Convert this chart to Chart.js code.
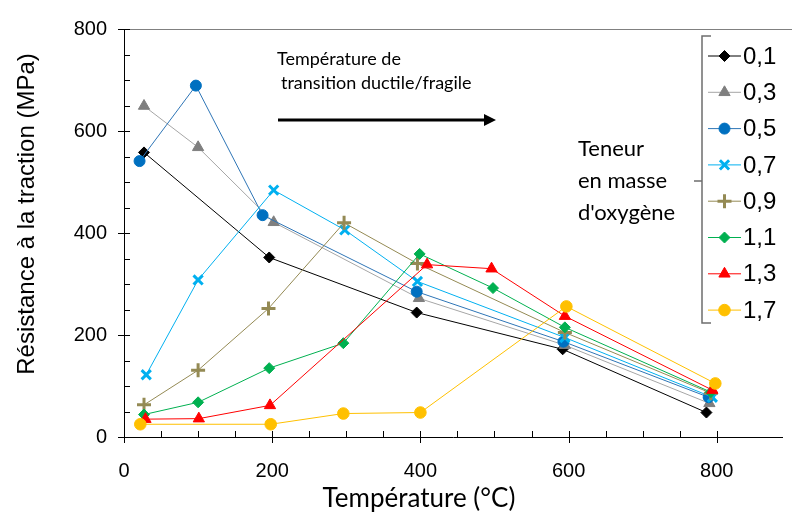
<!DOCTYPE html>
<html><head><meta charset="utf-8">
<script src="https://cdn.jsdelivr.net/npm/chart.js@4/dist/chart.umd.min.js"></script>
<style>html,body{margin:0;padding:0;background:#fff;}#wrap{position:relative;width:792px;height:519px;}</style>
</head><body><div id="wrap"><canvas id="c" width="792" height="519"></canvas></div>
<script>
// ---- data ----
const seriesNames = ['0,1','0,3','0,5','0,7','0,9','1,1','1,3','1,7'];
const temp01 = [27, 196, 395, 592, 786];
const res01  = [558, 352, 244, 172, 48];
const temp03 = [27, 100, 202, 398, 595, 790];
const res03  = [649, 568, 421, 272, 180, 66];
const temp05 = [21, 97, 187, 395, 593, 789];
const res05  = [541, 689, 435, 285, 187, 78];
const temp07 = [30, 100, 202, 298, 396, 595, 794];
const res07  = [122, 308, 484, 406, 305, 195, 78];
const temp09 = [27, 100, 195, 297, 396, 595, 792];
const res09  = [63, 131, 252, 420, 340, 205, 86];
const temp11 = [27, 100, 196, 296, 399, 498, 595, 792];
const res11  = [44, 68, 135, 184, 359, 292, 215, 88];
const temp13 = [29, 101, 197, 409, 496, 595, 794];
const res13  = [35, 36, 62, 338, 330, 237, 92];
const temp17 = [22, 198, 296, 400, 597, 798];
const res17  = [25, 25, 46, 48, 256, 105];
const xTickLabels = [0, 200, 400, 600, 800];
const yTickLabels = [0, 200, 400, 600, 800];
const xTitle = 'Température (°C)';
const yTitle = 'Résistance à la traction (MPa)';
const noteLines = ['Température de', 'transition ductile/fragile'];
const legendTitleLines = ['Teneur', 'en masse', "d'oxygène"];

// ---- styles ----
const temps = [temp01, temp03, temp05, temp07, temp09, temp11, temp13, temp17];
const values = [res01, res03, res05, res07, res09, res11, res13, res17];
const lineColors = ['#000000', '#A6A6A6', '#2E75B6', '#00B0F0', '#948A54', '#00B050', '#FF0000', '#FFC000'];
const markColors = ['#000000', '#7F7F7F', '#0070C0', '#00B0F0', '#948A54', '#00B050', '#FF0000', '#FFC000'];
const markStyles = ['rectRot', 'triangle', 'circle', 'crossRot', 'cross', 'rectRot', 'triangle', 'circle'];
const markRadius = [5.5, 6.5, 5.5, 6.5, 7, 5.5, 6.5, 5.8];
const markBorder = [1, 1, 1, 3, 3, 1, 1, 1];

const datasets = seriesNames.map((name, i) => ({
  label: name,
  data: temps[i].map((t, k) => ({x: t, y: values[i][k]})),
  showLine: true,
  borderColor: lineColors[i],
  borderWidth: 1,
  backgroundColor: markColors[i],
  pointBackgroundColor: markColors[i],
  pointBorderColor: markColors[i],
  pointStyle: markStyles[i],
  pointRadius: markRadius[i],
  pointBorderWidth: markBorder[i],
  order: seriesNames.length - i,
  tension: 0
}));

const CAL = 'Lato, "Open Sans", sans-serif';
const ARIAL = '"Liberation Sans", Arial, sans-serif';

const decor = {
  id: 'decor',
  beforeDatasetsDraw(chart) {
    const ctx = chart.ctx, a = chart.chartArea;
    const xs = chart.scales.x, ys = chart.scales.y;
    ctx.save();
    ctx.strokeStyle = '#808080'; ctx.lineWidth = 1;
    ctx.beginPath(); ctx.moveTo(a.left, a.top + 0.5); ctx.lineTo(792, a.top + 0.5); ctx.stroke();
    ctx.strokeStyle = '#000'; ctx.lineWidth = 1;
    xs.ticks.forEach(t => {
      const px = Math.round(xs.getPixelForValue(t.value)) + 0.5;
      const major = t.value % 200 === 0;
      ctx.beginPath();
      ctx.moveTo(px, a.bottom - 6);
      ctx.lineTo(px, major ? a.bottom + 6 : a.bottom);
      ctx.stroke();
    });
    ys.ticks.forEach(t => {
      const py = Math.round(ys.getPixelForValue(t.value)) + 0.5;
      const major = t.value % 200 === 0;
      ctx.beginPath();
      ctx.moveTo(major ? a.left - 6 : a.left, py);
      ctx.lineTo(a.left + 6, py);
      ctx.stroke();
    });
    ctx.restore();
  },
  afterDraw(chart) {
    const ctx = chart.ctx;
    ctx.save();
    ctx.fillStyle = '#000';
    ctx.font = '26px ' + CAL;
    ctx.textAlign = 'center'; ctx.textBaseline = 'middle';
    ctx.fillText(xTitle, 419, 499);
    ctx.save();
    ctx.translate(27, 214); ctx.rotate(-Math.PI / 2);
    ctx.font = '24px ' + ARIAL;
    ctx.fillText(yTitle, 0, 0);
    ctx.restore();
    ctx.font = '18px ' + CAL;
    ctx.textAlign = 'left';
    ctx.fillText(noteLines[0], 277, 59);
    ctx.fillText(noteLines[1], 281, 83);
    ctx.strokeStyle = '#000'; ctx.lineWidth = 3;
    ctx.beginPath(); ctx.moveTo(278, 120); ctx.lineTo(486, 120); ctx.stroke();
    ctx.beginPath(); ctx.moveTo(496, 120); ctx.lineTo(484, 114); ctx.lineTo(484, 126); ctx.closePath(); ctx.fill();
    ctx.font = '22px ' + CAL;
    legendTitleLines.forEach((s, i) => ctx.fillText(s, 578, 149 + i * 32));
    ctx.strokeStyle = '#6E6E6E'; ctx.lineWidth = 1.5;
    ctx.beginPath();
    ctx.moveTo(711, 36); ctx.lineTo(702, 36); ctx.lineTo(702, 323); ctx.lineTo(711, 323);
    ctx.moveTo(702, 181); ctx.lineTo(694, 181);
    ctx.stroke();
    seriesNames.forEach((name, i) => {
      const y = 56 + i * 36.3;
      ctx.strokeStyle = lineColors[i]; ctx.lineWidth = 1;
      ctx.beginPath(); ctx.moveTo(708, y); ctx.lineTo(741, y); ctx.stroke();
      ctx.fillStyle = markColors[i]; ctx.strokeStyle = markColors[i];
      ctx.lineWidth = markBorder[i];
      Chart.helpers.drawPoint(ctx, {pointStyle: markStyles[i], radius: markRadius[i], borderWidth: markBorder[i], rotation: 0}, 724.5, y);
      ctx.fillStyle = '#000';
      ctx.font = '24px ' + ARIAL;
      ctx.textAlign = 'left'; ctx.textBaseline = 'middle';
      ctx.fillText(name, 743, y + 1);
    });
    ctx.restore();
  }
};

new Chart(document.getElementById('c'), {
  type: 'scatter',
  data: {datasets},
  options: {
    responsive: false,
    animation: false,
    devicePixelRatio: 1,
    layout: {padding: {top: 26, right: 2, left: 0, bottom: 0}},
    plugins: {legend: {display: false}, tooltip: {enabled: false}},
    scales: {
      x: {
        type: 'linear', min: 0, max: 888,
        afterFit(s) { s.height = 82; },
        afterBuildTicks(s) { s.ticks = s.ticks.filter(t => t.value % 50 === 0 && t.value <= 850); },
        grid: {display: false, drawTicks: false},
        border: {display: true, color: '#000', width: 1},
        ticks: {
          stepSize: 50, padding: 22, maxRotation: 0, autoSkip: false,
          color: '#000', font: {family: ARIAL, size: 20},
          callback: v => xTickLabels.includes(v) ? String(v) : ''
        }
      },
      y: {
        type: 'linear', min: 0, max: 800,
        afterFit(s) { s.width = 124; },
        grid: {display: false, drawTicks: false},
        border: {display: true, color: '#000', width: 1},
        ticks: {
          stepSize: 50, padding: 17, autoSkip: false,
          color: '#000', font: {family: ARIAL, size: 20},
          callback: v => yTickLabels.includes(v) ? String(v) : ''
        }
      }
    }
  },
  plugins: [decor]
});
</script></body></html>
